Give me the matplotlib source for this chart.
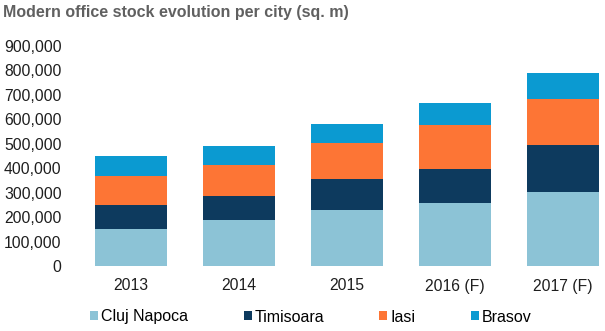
import matplotlib.pyplot as plt
import numpy as np

plt.rcParams['font.family'] = ['Liberation Sans', 'DejaVu Sans']

years = ["2013", "2014", "2015", "2016 (F)", "2017 (F)"]
cities = ["Cluj Napoca", "Timisoara", "Iasi", "Brasov"]
cluj = [152000, 189000, 230000, 258000, 303000]
timisoara = [98000, 98000, 127000, 140000, 193000]
iasi = [119000, 127000, 147000, 180000, 188000]
brasov = [82000, 78000, 78000, 90000, 107000]
colors = ["#8cc3d6", "#0d3a5e", "#fd7535", "#0b9ad1"]

W, H = 605, 331
fig = plt.figure(figsize=(W / 100, H / 100), dpi=100)
# plot area runs a little past the right edge, so the last bar sits flush with it
ax = fig.add_axes([77 / W, (H - 266) / H, 540 / W, 220 / H])

x = np.arange(len(years))
bottom = np.zeros(len(years))
for name, vals, c in zip(cities, [cluj, timisoara, iasi, brasov], colors):
    ax.bar(x, vals, width=0.667, bottom=bottom, color=c, label=name)
    bottom += np.array(vals)

ax.set_xlim(-0.5, len(years) - 0.5)
ax.set_ylim(0, 900000)
ticks = range(0, 900001, 100000)
ax.set_yticks(list(ticks))
ax.set_yticklabels(["{:,}".format(v) for v in ticks])
ax.set_xticks(x)
ax.set_xticklabels(years)
ax.tick_params(length=0, labelsize=11.3, colors="#1e1e1e")
ax.tick_params(axis="x", pad=9)
ax.tick_params(axis="y", pad=11)
for s in ax.spines.values():
    s.set_visible(False)

fig.text(3 / W, 1 - 12 / H, "Modern office stock evolution per city (sq. m)",
         fontsize=11.5, fontweight="bold", color="#606060", va="center")

fig.legend(loc="center", bbox_to_anchor=(311 / W, 1 - 317 / H), ncol=4, frameon=False,
           fontsize=11.5, handlelength=0.5, handleheight=0.5, handletextpad=0.2,
           columnspacing=3.45, borderpad=0, borderaxespad=0)

fig.savefig("out.png", dpi=100)
